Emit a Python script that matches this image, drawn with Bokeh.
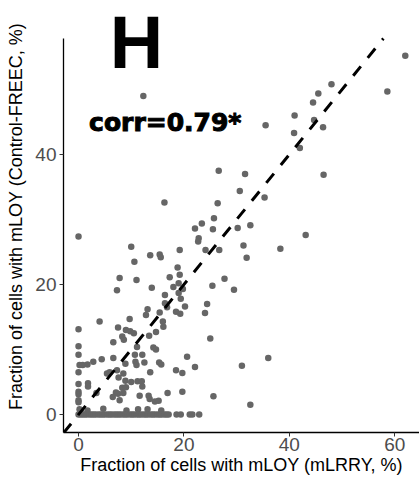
from bokeh.plotting import figure
from bokeh.models import Label, Range1d, FixedTicker
from bokeh.embed import file_html
from bokeh.resources import INLINE

# scattered points (mLRRY %, Control-FREEC %)
x_pts = [62.0, 58.6, 48.0, 45.5, 44.5, 41.0, 44.7, 40.9, 46.4, 42.0, 35.5, 12.3,
         26.6, 31.6, 46.5, 30.6, 35.3, 16.3, 26.4, 23.4, 25.7, 22.1, 25.5, 30.2,
         32.6, 22.8, 22.7, 0.0, 43.1, 10.0, 13.6, 15.4, 15.6, 19.2, 24.1, 26.7,
         31.3, 31.9, 38.3, 10.6, 18.8, 7.8, 11.0, 17.3, 19.2, 27.7, 7.3, 13.9,
         18.0, 19.0, 25.4, 29.5, 16.4, 19.0, 19.8, 19.4, 16.4, 16.8, 20.2, 24.4,
         13.1, 12.8, 15.4, 18.5, 19.3, 24.0, 9.7, 4.0, 16.0, 0.0, 7.5, 9.0,
         9.8, 10.5, 16.1, 14.7, 13.4, 8.3, 8.6, 6.6, 25.0, 0.0, 11.1, 14.2,
         14.7, 0.0, 6.6, 10.7, 12.1, 4.4, 2.8, 0.2, 0.8, 1.7, 0.0, 10.8,
         11.0, 12.5, 8.9, 15.3, 15.7, 13.6, 18.5, 19.7, 20.6, 22.1, 31.0, 36.0,
         5.4, 5.9, 7.3, 8.5, 7.6, 8.9, 10.0, 11.2, 12.0, 0.0, 1.8, 1.8,
         8.3, 9.0, 12.1, 7.1, 7.5, 8.5, 0.0, 0.0, 0.0, 0.0, 6.5, 7.8,
         3.4, 13.3, 13.5, 14.5, 15.2, 16.9, 19.7, 25.6, 32.6, 0.2, 0.4, 4.7,
         1.7, 9.1, 11.3, 13.1, 15.7, 11.6]
y_pts = [55.2, 49.7, 50.8, 49.4, 48.0, 46.0, 45.3, 43.3, 44.2, 41.0, 44.5, 49.0,
         37.5, 37.0, 36.9, 34.4, 33.4, 32.6, 32.5, 29.4, 30.2, 28.6, 28.5, 28.7,
         29.1, 27.1, 26.6, 27.4, 27.6, 25.8, 24.5, 24.6, 24.2, 25.3, 25.3, 25.3,
         26.0, 24.1, 25.5, 23.5, 22.6, 21.0, 20.7, 21.1, 21.5, 20.9, 19.1, 19.5,
         19.6, 20.2, 19.8, 19.2, 18.4, 18.7, 19.3, 17.8, 17.1, 16.5, 16.6, 17.0,
         16.2, 15.3, 15.7, 15.8, 15.5, 15.6, 14.7, 14.3, 14.3, 13.1, 13.4, 13.0,
         12.8, 12.5, 13.5, 12.7, 12.1, 12.0, 11.5, 11.1, 11.7, 10.5, 10.4, 10.3,
         10.0, 9.2, 8.7, 9.2, 9.2, 8.5, 8.1, 7.6, 7.6, 7.7, 6.5, 8.1,
         7.6, 8.0, 7.8, 8.0, 7.7, 6.5, 6.8, 6.4, 8.9, 7.3, 7.5, 8.7,
         6.3, 6.5, 6.8, 6.3, 5.7, 5.2, 5.0, 5.1, 5.1, 4.7, 4.8, 4.3,
         4.1, 4.2, 4.3, 3.4, 3.2, 3.3, 3.5, 3.1, 2.2, 1.9, 2.7, 2.2,
         3.3, 2.9, 2.4, 2.0, 2.1, 3.3, 3.5, 2.8, 1.5, 0.8, 0.6, 0.9,
         0.6, 0.6, 0.8, 0.8, 0.6, 2.9]

# points lying on the zero line of Control-FREEC
x_zero = [0.0, 0.4, 0.8, 1.2, 1.6, 2.1, 2.5, 2.9, 3.3, 3.8, 4.2, 4.6, 5.0, 5.5,
          5.9, 6.3, 6.8, 7.2, 7.6, 8.0, 8.5, 8.9, 9.3, 9.8, 10.2, 10.6, 11.1,
          11.5, 11.9, 12.4, 12.8, 13.2, 13.7, 14.1, 14.5, 15.0, 15.4, 15.8,
          16.3, 16.7, 17.1, 18.6, 19.4, 21.1, 21.6, 22.9]
y_zero = [0.0] * len(x_zero)

x_ticks = [0, 20, 40, 60]
y_ticks = [0, 20, 40]
panel_label = "H"
corr_text = "corr=0.79*"
x_title = "Fraction of cells with mLOY (mLRRY, %)"
y_title = "Fraction of cells with mLOY (Control-FREEC, %)"

X_LO, X_HI = -2.85, 64.7    # panel limits of the x axis
Y_LO, Y_HI = -2.77, 57.85   # panel limits of the y axis

p = figure(width=419, height=477, output_backend="svg", toolbar_location=None,
           x_range=Range1d(X_LO, X_HI), y_range=Range1d(Y_LO, 63.7),
           min_border_left=63, min_border_right=0, min_border_top=0,
           min_border_bottom=45)
p.outline_line_color = None
p.xgrid.visible = False
p.ygrid.visible = False

p.scatter(x_pts + x_zero, y_pts + y_zero, size=6.5, color="#666666",
          line_color=None)

# identity line y = x, limited to the panel
lo = min(X_LO, Y_LO)
p.line([lo, Y_HI], [lo, Y_HI], line_color="black", line_width=3,
       line_dash="12 11")

for ax in (p.xaxis[0], p.yaxis[0]):
    ax.axis_line_color = "black"
    ax.axis_line_width = 1.3
    ax.major_tick_line_color = "#333333"
    ax.major_tick_out = 4
    ax.major_tick_in = 0
    ax.minor_tick_line_color = None
    ax.major_label_text_font = "Liberation Sans"
    ax.major_label_text_font_size = "19px"
    ax.major_label_text_color = "#4d4d4d"
    ax.axis_label_text_font = "Liberation Sans"
    ax.axis_label_text_font_size = "18px"
    ax.axis_label_text_font_style = "normal"
    ax.axis_label_text_color = "black"

p.yaxis[0].bounds = (Y_LO, Y_HI)
p.xaxis[0].major_label_standoff = 1
p.xaxis[0].axis_label_standoff = 1
p.yaxis[0].major_label_standoff = 3
p.yaxis[0].axis_label_standoff = 6

p.xaxis[0].ticker = FixedTicker(ticks=x_ticks)
p.yaxis[0].ticker = FixedTicker(ticks=y_ticks)
p.xaxis[0].axis_label = x_title
p.yaxis[0].axis_label = y_title

p.add_layout(Label(x=11.0, y=57.3, text=panel_label, text_font="Liberation Sans",
                   text_font_style="bold", text_font_size="74px",
                   text_align="center", text_baseline="alphabetic",
                   text_color="black"))
corr_label = Label(x=2.0, y=44.9, text=corr_text, text_font="DejaVu Sans",
                   text_font_style="bold", text_font_size="25px",
                   text_align="left", text_baseline="alphabetic",
                   text_color="black")
try:
    corr_label.text_outline_color = "black"
except Exception:
    pass
p.add_layout(corr_label)

open("out.html", "w").write(file_html(p, INLINE))
